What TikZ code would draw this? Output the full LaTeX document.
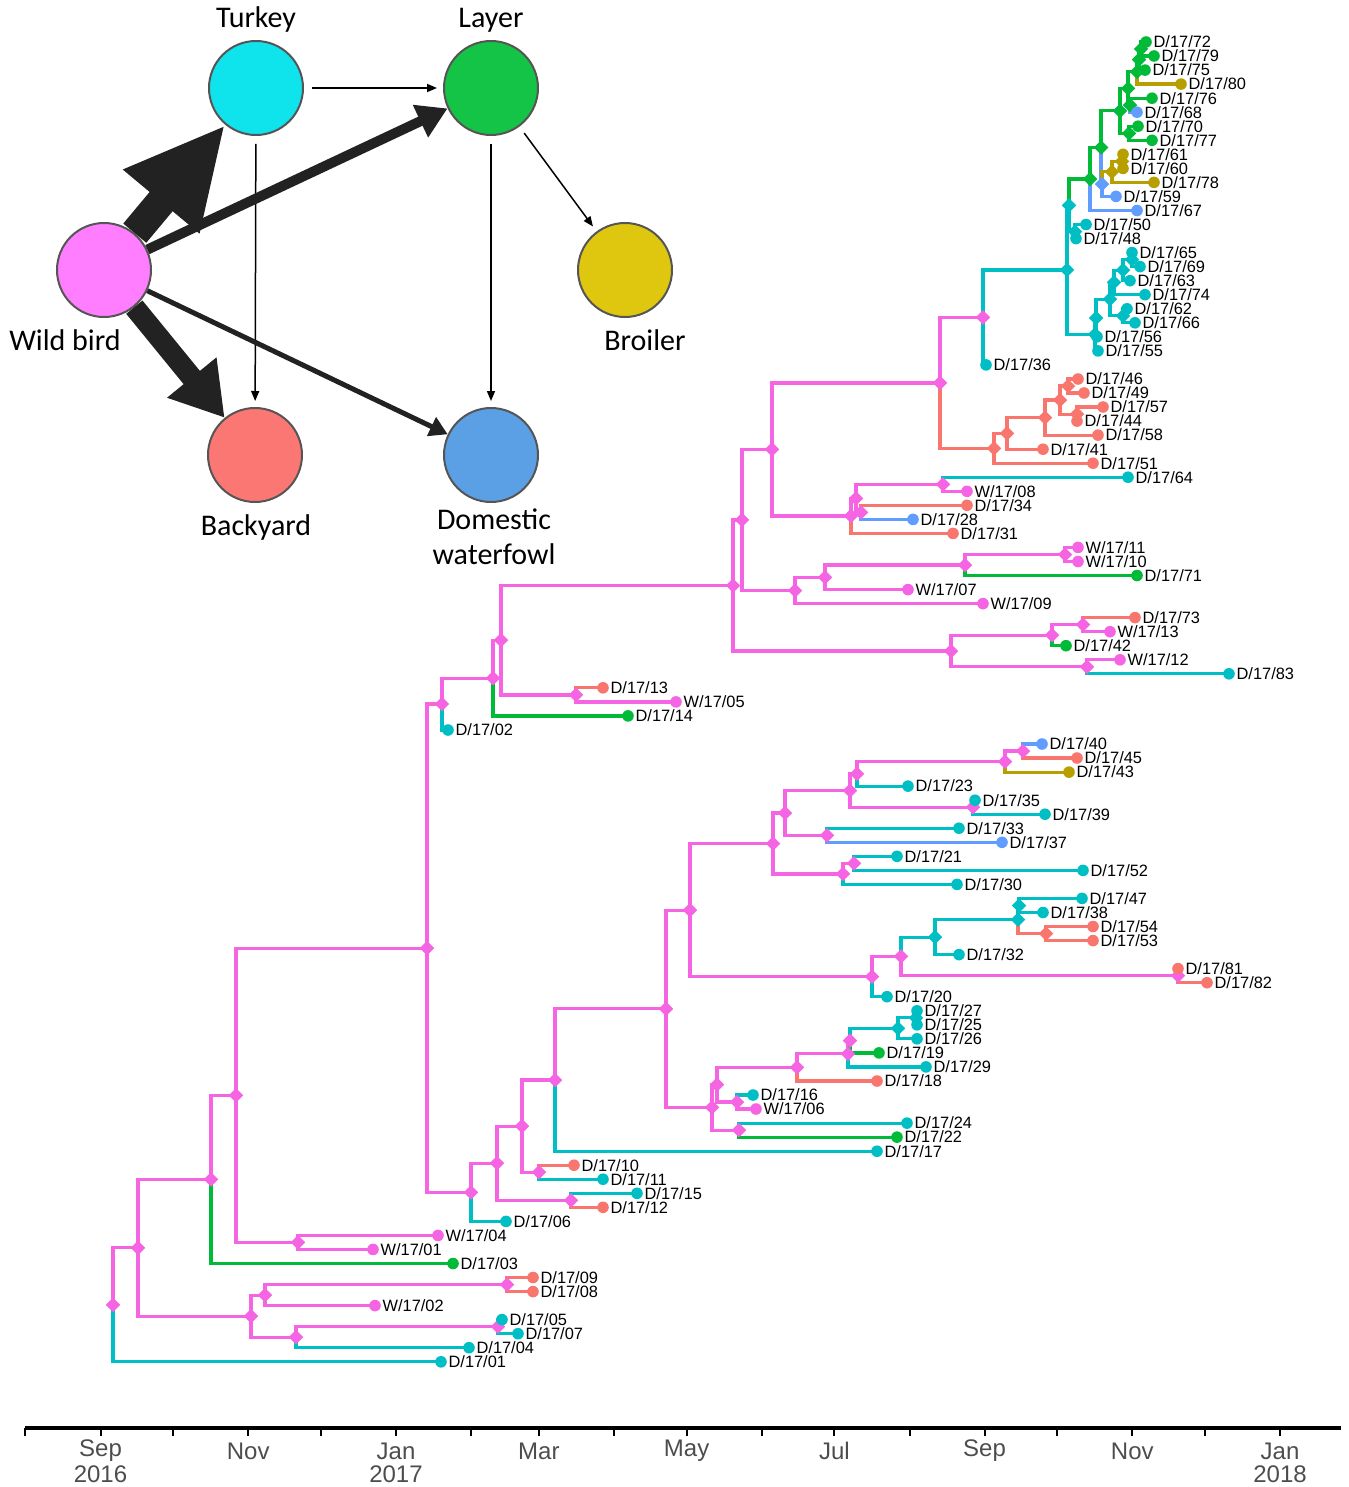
\documentclass[tikz,border=0pt]{standalone}
\usepackage{fontspec}
\setmainfont{Liberation Sans}
\newfontfamily\netfont{Carlito}
\usetikzlibrary{shapes.geometric,arrows.meta}
\pgfdeclarelayer{bg}\pgfsetlayers{bg,main}
\definecolor{cM}{HTML}{F564E3}
\definecolor{cT}{HTML}{00BFC4}
\definecolor{cG}{HTML}{00BA38}
\definecolor{cS}{HTML}{F8766D}
\definecolor{cB}{HTML}{619CFF}
\definecolor{cO}{HTML}{B79F00}
\definecolor{nTu}{HTML}{0FE3EC}
\definecolor{nLa}{HTML}{14C446}
\definecolor{nWb}{HTML}{FF7EFF}
\definecolor{nBr}{HTML}{DEC70E}
\definecolor{nBa}{HTML}{FA7773}
\definecolor{nDw}{HTML}{5B9FE5}
\definecolor{axgray}{HTML}{4D4D4D}
\definecolor{ringgray}{HTML}{555555}
\definecolor{arrk}{HTML}{222222}
\tikzset{
  tipdot/.style={circle,inner sep=0pt,minimum size=5.8pt},
  dia/.style={diamond,inner sep=0pt,minimum size=7.4pt,aspect=1},
  tiplab/.style={anchor=west,inner sep=0.5pt,font=\fontsize{8.2}{9}\selectfont},
  branch/.style={line width=1.6pt,line join=miter},
  netc/.style={circle,minimum size=47pt,inner sep=0pt,draw=ringgray,line width=1pt},
  netlab/.style={font=\netfont\fontsize{15}{17.5}\selectfont,inner sep=0pt},
  thinarr/.style={line width=0.75pt,-{Triangle[length=5pt,width=4pt]}},
  axlab/.style={font=\fontsize{12}{14}\selectfont,text=axgray,inner sep=0pt}
}
\newcommand\tipn[5]{\node[tipdot,fill=#4] (#1) at (#2,#3) {};\node[tiplab] (#1l) at (#1.east) {#5};}
\newcommand\intn[4]{\node[dia,fill=#4] (#1) at (#2,#3) {};}
\newcommand\brn[3]{\draw[branch,#3] (#1.center) |- (#2.center);}
\begin{document}
\begin{tikzpicture}[x=0.5pt,y=-0.5pt]
\useasboundingbox (0,0) rectangle (1348,1487);
% ---------------- network ----------------
\node[netc,fill=nTu] (tu) at (256,88) {};
\node[netc,fill=nLa] (la) at (491,88) {};
\node[netc,fill=nWb] (wb) at (104,270) {};
\node[netc,fill=nBr] (bro) at (625,270) {};
\node[netc,fill=nBa] (ba) at (255,455) {};
\node[netc,fill=nDw] (dw) at (491,455) {};
\node[netlab] (tul) at (256,20) {Turkey};
\node[netlab] (lal) at (491,20) {Layer};
\node[netlab] (wbl) at (65,340) {Wild bird};
\node[netlab] (brl) at (645,340) {Broiler};
\node[netlab] (bal) at (256,527) {Backyard};
\node[netlab,align=center] (dwl) at (494,537) {Domestic\\waterfowl};
\draw[thinarr,shorten <=4pt,shorten >=3pt] (tu) -- (la);
\draw[thinarr,shorten <=4pt,shorten >=3pt] (tu) -- (ba);
\draw[thinarr,shorten <=4pt,shorten >=3pt] (la) -- (dw);
\draw[thinarr,shorten <=4pt,shorten >=3pt] (la) -- (bro);
\draw[arrk,line width=15pt,-{Triangle[length=50pt,width=46pt]}] (wb) -- (tu);
\draw[arrk,line width=10.5pt,-{Triangle[length=26pt,width=30pt]}] (wb) -- (ba);
\draw[arrk,line width=5pt,-{Triangle[length=15pt,width=17pt]}] (wb) -- (la);
\draw[arrk,line width=2.5pt,-{Triangle[length=9pt,width=10pt]}] (wb) -- (dw);
% ---------------- internal nodes ----------------
\intn{i1305}{113}{1304.8}{cM}
\intn{i1247}{138}{1247.8}{cM}
\intn{i1179}{211}{1179.4}{cM}
\intn{i1095}{236}{1095.3}{cM}
\intn{i1242}{298}{1242.4}{cM}
\intn{i1316}{251}{1316.2}{cM}
\intn{i1295}{265}{1295.1}{cM}
\intn{i1284}{507}{1284.6}{cM}
\intn{i1337}{296}{1337.2}{cM}
\intn{i1327}{498}{1326.7}{cM}
\intn{i947}{427}{948.2}{cM}
\intn{i1192}{471}{1192.3}{cM}
\intn{i1163}{497}{1163.2}{cM}
\intn{i1200}{571}{1200.3}{cM}
\intn{i1124}{522}{1126.1}{cM}
\intn{i1172}{539}{1172.2}{cM}
\intn{i1079}{555}{1080.0}{cM}
\intn{i1008}{666}{1008.8}{cM}
\intn{i1107}{712}{1107.4}{cM}
\intn{i1129}{739}{1130.1}{cM}
\intn{i1083}{717}{1084.7}{cM}
\intn{i1101}{737}{1102.0}{cM}
\intn{i1067}{797}{1067.4}{cM}
\intn{i1053}{848}{1053.8}{cM}
\intn{i1040}{850}{1040.6}{cM}
\intn{i1027}{898}{1028.3}{cT}
\intn{i1017}{916}{1017.8}{cT}
\intn{i909}{690}{910.1}{cM}
\intn{i976}{872}{976.6}{cM}
\intn{i956}{901}{956.4}{cM}
\intn{i975}{1178}{975.7}{cM}
\intn{i937}{935}{937.1}{cT}
\intn{i919}{1018}{919.6}{cT}
\intn{i905}{1019}{905.5}{cT}
\intn{i933}{1046}{933.6}{cS}
\intn{i843}{773}{843.5}{cM}
\intn{i874}{843}{873.9}{cM}
\intn{i863}{854}{863.4}{cM}
\intn{i813}{785}{813.0}{cM}
\intn{i835}{827}{835.3}{cM}
\intn{i790}{850}{790.6}{cM}
\intn{i807}{973}{807.2}{cM}
\intn{i773}{857}{773.9}{cM}
\intn{i762}{1005}{761.6}{cM}
\intn{i751}{1023}{751.0}{cM}
\intn{i703}{442}{704.0}{cM}
\intn{i678}{493}{678.1}{cM}
\intn{i639}{501}{640.2}{cM}
\intn{i695}{576}{694.9}{cM}
\intn{i585}{733}{585.5}{cM}
\intn{i650}{951}{651.0}{cM}
\intn{i666}{1087}{666.8}{cM}
\intn{i634}{1052}{635.2}{cM}
\intn{i625}{1083}{624.7}{cM}
\intn{i520}{742}{519.9}{cM}
\intn{i590}{795}{590.5}{cM}
\intn{i577}{825}{577.3}{cM}
\intn{i564}{965}{565.0}{cM}
\intn{i553}{1065}{554.5}{cM}
\intn{i449}{772}{449.4}{cM}
\intn{i515}{851}{515.9}{cM}
\intn{i497}{856}{498.3}{cM}
\intn{i512}{861}{512.4}{cM}
\intn{i483}{943}{484.3}{cM}
\intn{i381}{940}{382.9}{cM}
\intn{i448}{994}{448.3}{cS}
\intn{i433}{1007}{433.4}{cS}
\intn{i417}{1045}{417.6}{cS}
\intn{i399}{1060}{400.0}{cS}
\intn{i385}{1068}{386.0}{cS}
\intn{i412}{1077}{414.1}{cS}
\intn{i317}{983}{317.4}{cM}
\intn{i268}{1067}{269.9}{cT}
\intn{i335}{1095}{334.4}{cT}
\intn{i318}{1096}{318.0}{cT}
\intn{i298}{1110}{299.1}{cT}
\intn{i281}{1114}{282.4}{cT}
\intn{i269}{1123}{270.2}{cT}
\intn{i259}{1132}{259.6}{cT}
\intn{i315}{1123}{315.8}{cT}
\intn{i204}{1069}{205.3}{cT}
\intn{i230}{1075}{231.6}{cT}
\intn{i178}{1090}{179.0}{cG}
\intn{i147}{1101}{147.5}{cG}
\intn{i183}{1102}{184.2}{cB}
\intn{i172}{1112}{171.9}{cO}
\intn{i160}{1122}{161.4}{cO}
\intn{i110}{1120}{110.9}{cG}
\intn{i133}{1129}{133.3}{cG}
\intn{i88}{1128}{88.5}{cG}
\intn{i104}{1130}{105.2}{cG}
\intn{i71}{1137}{71.8}{cG}
\intn{i58}{1139}{59.6}{cG}
\intn{i48}{1141}{49.0}{cG}
% ---------------- tips ----------------
\tipn{t72}{1146}{42.0}{cG}{D/17/72}
\tipn{t79}{1154}{56.0}{cG}{D/17/79}
\tipn{t75}{1145}{70.1}{cG}{D/17/75}
\tipn{t80}{1181}{84.1}{cO}{D/17/80}
\tipn{t76}{1152}{98.2}{cG}{D/17/76}
\tipn{t68}{1137}{112.2}{cB}{D/17/68}
\tipn{t70}{1138}{126.2}{cG}{D/17/70}
\tipn{t77}{1152}{140.3}{cG}{D/17/77}
\tipn{t61}{1123}{154.3}{cO}{D/17/61}
\tipn{t60}{1123}{168.4}{cO}{D/17/60}
\tipn{t78}{1154}{182.4}{cO}{D/17/78}
\tipn{t59}{1116}{196.4}{cB}{D/17/59}
\tipn{t67}{1137}{210.5}{cB}{D/17/67}
\tipn{t50}{1086}{224.5}{cT}{D/17/50}
\tipn{t48}{1076}{238.6}{cT}{D/17/48}
\tipn{t65}{1132}{252.6}{cT}{D/17/65}
\tipn{t69}{1140}{266.6}{cT}{D/17/69}
\tipn{t63}{1130}{280.7}{cT}{D/17/63}
\tipn{t74}{1145}{294.7}{cT}{D/17/74}
\tipn{t62}{1127}{308.8}{cT}{D/17/62}
\tipn{t66}{1135}{322.8}{cT}{D/17/66}
\tipn{t56}{1097}{336.8}{cT}{D/17/56}
\tipn{t55}{1098}{350.9}{cT}{D/17/55}
\tipn{t36}{986}{364.9}{cT}{D/17/36}
\tipn{t46}{1078}{379.0}{cS}{D/17/46}
\tipn{t49}{1084}{393.0}{cS}{D/17/49}
\tipn{t57}{1103}{407.0}{cS}{D/17/57}
\tipn{t44}{1077}{421.1}{cS}{D/17/44}
\tipn{t58}{1098}{435.1}{cS}{D/17/58}
\tipn{t41}{1043}{449.2}{cS}{D/17/41}
\tipn{t51}{1093}{463.2}{cS}{D/17/51}
\tipn{t64}{1128}{477.2}{cT}{D/17/64}
\tipn{w08}{967}{491.3}{cM}{W/17/08}
\tipn{t34}{967}{505.3}{cS}{D/17/34}
\tipn{t28}{913}{519.4}{cB}{D/17/28}
\tipn{t31}{953}{533.4}{cS}{D/17/31}
\tipn{w11}{1078}{547.4}{cM}{W/17/11}
\tipn{w10}{1078}{561.5}{cM}{W/17/10}
\tipn{t71}{1137}{575.5}{cG}{D/17/71}
\tipn{w07}{908}{589.6}{cM}{W/17/07}
\tipn{w09}{983}{603.6}{cM}{W/17/09}
\tipn{t73}{1135}{617.6}{cS}{D/17/73}
\tipn{w13}{1110}{631.7}{cM}{W/17/13}
\tipn{t42}{1066}{645.7}{cG}{D/17/42}
\tipn{w12}{1120}{659.8}{cM}{W/17/12}
\tipn{t83}{1229}{673.8}{cT}{D/17/83}
\tipn{t13}{603}{687.8}{cS}{D/17/13}
\tipn{w05}{676}{701.9}{cM}{W/17/05}
\tipn{t14}{628}{715.9}{cG}{D/17/14}
\tipn{t02}{448}{730.0}{cT}{D/17/02}
\tipn{t40}{1042}{744.0}{cB}{D/17/40}
\tipn{t45}{1077}{758.0}{cS}{D/17/45}
\tipn{t43}{1069}{772.1}{cO}{D/17/43}
\tipn{t23}{908}{786.1}{cT}{D/17/23}
\tipn{t35}{975}{800.2}{cT}{D/17/35}
\tipn{t39}{1045}{814.2}{cT}{D/17/39}
\tipn{t33}{959}{828.2}{cT}{D/17/33}
\tipn{t37}{1002}{842.3}{cB}{D/17/37}
\tipn{t21}{897}{856.3}{cT}{D/17/21}
\tipn{t52}{1083}{870.4}{cT}{D/17/52}
\tipn{t30}{957}{884.4}{cT}{D/17/30}
\tipn{t47}{1082}{898.4}{cT}{D/17/47}
\tipn{t38}{1043}{912.5}{cT}{D/17/38}
\tipn{t54}{1093}{926.5}{cS}{D/17/54}
\tipn{t53}{1093}{940.6}{cS}{D/17/53}
\tipn{t32}{959}{954.6}{cT}{D/17/32}
\tipn{t81}{1178}{968.6}{cS}{D/17/81}
\tipn{t82}{1207}{982.7}{cS}{D/17/82}
\tipn{t20}{887}{996.7}{cT}{D/17/20}
\tipn{t27}{917}{1010.8}{cT}{D/17/27}
\tipn{t25}{917}{1024.8}{cT}{D/17/25}
\tipn{t26}{917}{1038.8}{cT}{D/17/26}
\tipn{t19}{879}{1052.9}{cG}{D/17/19}
\tipn{t29}{926}{1066.9}{cT}{D/17/29}
\tipn{t18}{877}{1081.0}{cS}{D/17/18}
\tipn{t16}{753}{1095.0}{cT}{D/17/16}
\tipn{w06}{756}{1109.0}{cM}{W/17/06}
\tipn{t24}{907}{1123.1}{cT}{D/17/24}
\tipn{t22}{897}{1137.1}{cG}{D/17/22}
\tipn{t17}{877}{1151.2}{cT}{D/17/17}
\tipn{t10}{574}{1165.2}{cS}{D/17/10}
\tipn{t11}{603}{1179.2}{cT}{D/17/11}
\tipn{t15}{637}{1193.3}{cT}{D/17/15}
\tipn{t12}{603}{1207.3}{cS}{D/17/12}
\tipn{t06}{506}{1221.4}{cT}{D/17/06}
\tipn{w04}{438}{1235.4}{cM}{W/17/04}
\tipn{w01}{373}{1249.4}{cM}{W/17/01}
\tipn{t03}{453}{1263.5}{cG}{D/17/03}
\tipn{t09}{533}{1277.5}{cS}{D/17/09}
\tipn{t08}{533}{1291.6}{cS}{D/17/08}
\tipn{w02}{375}{1305.6}{cM}{W/17/02}
\tipn{t05}{502}{1319.6}{cT}{D/17/05}
\tipn{t07}{518}{1333.7}{cT}{D/17/07}
\tipn{t04}{469}{1347.7}{cT}{D/17/04}
\tipn{t01}{441}{1361.8}{cT}{D/17/01}
% ---------------- branches ----------------
\begin{pgfonlayer}{bg}
\brn{i1305}{i1247}{cM}\brn{i1305}{t01}{cT}
\brn{i1247}{i1179}{cM}\brn{i1247}{i1316}{cM}
\brn{i1179}{i1095}{cM}\brn{i1179}{t03}{cG}
\brn{i1095}{i947}{cM}\brn{i1095}{i1242}{cM}
\brn{i1242}{w04}{cM}\brn{i1242}{w01}{cM}
\brn{i1316}{i1295}{cM}\brn{i1316}{i1337}{cM}
\brn{i1295}{i1284}{cM}\brn{i1295}{w02}{cM}
\brn{i1284}{t09}{cS}\brn{i1284}{t08}{cS}
\brn{i1337}{i1327}{cM}\brn{i1337}{t04}{cT}
\brn{i1327}{t05}{cT}\brn{i1327}{t07}{cT}
\brn{i947}{i703}{cM}\brn{i947}{i1192}{cM}
\brn{i1192}{i1163}{cM}\brn{i1192}{t06}{cT}
\brn{i1163}{i1124}{cM}\brn{i1163}{i1200}{cM}
\brn{i1200}{t15}{cT}\brn{i1200}{t12}{cS}
\brn{i1124}{i1079}{cM}\brn{i1124}{i1172}{cM}
\brn{i1172}{t10}{cS}\brn{i1172}{t11}{cT}
\brn{i1079}{i1008}{cM}\brn{i1079}{t17}{cT}
\brn{i1008}{i909}{cM}\brn{i1008}{i1107}{cM}
\brn{i1107}{i1083}{cM}\brn{i1107}{i1129}{cM}
\brn{i1129}{t24}{cT}\brn{i1129}{t22}{cG}
\brn{i1083}{i1067}{cM}\brn{i1083}{i1101}{cM}
\brn{i1101}{t16}{cT}\brn{i1101}{w06}{cM}
\brn{i1067}{i1053}{cM}\brn{i1067}{t18}{cS}
\brn{i1053}{i1040}{cM}\brn{i1053}{t29}{cT}
\brn{i1040}{i1027}{cT}\brn{i1040}{t19}{cG}
\brn{i1027}{i1017}{cT}\brn{i1027}{t26}{cT}
\brn{i1017}{t27}{cT}\brn{i1017}{t25}{cT}
\brn{i909}{i843}{cM}\brn{i909}{i976}{cM}
\brn{i976}{i956}{cM}\brn{i976}{t20}{cT}
\brn{i956}{i937}{cT}\brn{i956}{i975}{cM}
\brn{i975}{t81}{cS}\brn{i975}{t82}{cS}
\brn{i937}{i919}{cT}\brn{i937}{t32}{cT}
\brn{i919}{i905}{cT}\brn{i919}{i933}{cS}
\brn{i905}{t47}{cT}\brn{i905}{t38}{cT}
\brn{i933}{t54}{cS}\brn{i933}{t53}{cS}
\brn{i843}{i813}{cM}\brn{i843}{i874}{cM}
\brn{i874}{i863}{cM}\brn{i874}{t30}{cT}
\brn{i863}{t21}{cT}\brn{i863}{t52}{cT}
\brn{i813}{i790}{cM}\brn{i813}{i835}{cM}
\brn{i835}{t33}{cT}\brn{i835}{t37}{cB}
\brn{i790}{i773}{cM}\brn{i790}{i807}{cM}
\brn{i807}{t35}{cT}\brn{i807}{t39}{cT}
\brn{i773}{i762}{cM}\brn{i773}{t23}{cT}
\brn{i762}{i751}{cM}\brn{i762}{t43}{cO}
\brn{i751}{t40}{cB}\brn{i751}{t45}{cS}
\brn{i703}{i678}{cM}\brn{i703}{t02}{cT}
\brn{i678}{i639}{cM}\brn{i678}{t14}{cG}
\brn{i639}{i585}{cM}\brn{i639}{i695}{cM}
\brn{i695}{t13}{cS}\brn{i695}{w05}{cM}
\brn{i585}{i520}{cM}\brn{i585}{i650}{cM}
\brn{i650}{i634}{cM}\brn{i650}{i666}{cM}
\brn{i666}{w12}{cM}\brn{i666}{t83}{cT}
\brn{i634}{i625}{cM}\brn{i634}{t42}{cG}
\brn{i625}{t73}{cS}\brn{i625}{w13}{cM}
\brn{i520}{i449}{cM}\brn{i520}{i590}{cM}
\brn{i590}{i577}{cM}\brn{i590}{w09}{cM}
\brn{i577}{i564}{cM}\brn{i577}{w07}{cM}
\brn{i564}{i553}{cM}\brn{i564}{t71}{cG}
\brn{i553}{w11}{cM}\brn{i553}{w10}{cM}
\brn{i449}{i381}{cM}\brn{i449}{i515}{cM}
\brn{i515}{i497}{cM}\brn{i515}{t31}{cS}
\brn{i497}{i483}{cM}\brn{i497}{i512}{cM}
\brn{i512}{t34}{cS}\brn{i512}{t28}{cB}
\brn{i483}{t64}{cT}\brn{i483}{w08}{cM}
\brn{i381}{i317}{cM}\brn{i381}{i448}{cS}
\brn{i448}{i433}{cS}\brn{i448}{t51}{cS}
\brn{i433}{i417}{cS}\brn{i433}{t41}{cS}
\brn{i417}{i399}{cS}\brn{i417}{t58}{cS}
\brn{i399}{i385}{cS}\brn{i399}{i412}{cS}
\brn{i385}{t46}{cS}\brn{i385}{t49}{cS}
\brn{i412}{t57}{cS}\brn{i412}{t44}{cS}
\brn{i317}{i268}{cT}\brn{i317}{t36}{cT}
\brn{i268}{i204}{cT}\brn{i268}{i335}{cT}
\brn{i335}{i318}{cT}\brn{i335}{t55}{cT}
\brn{i318}{i298}{cT}\brn{i318}{t56}{cT}
\brn{i298}{i281}{cT}\brn{i298}{i315}{cT}
\brn{i281}{i269}{cT}\brn{i281}{t74}{cT}
\brn{i269}{i259}{cT}\brn{i269}{t63}{cT}
\brn{i259}{t65}{cT}\brn{i259}{t69}{cT}
\brn{i315}{t62}{cT}\brn{i315}{t66}{cT}
\brn{i204}{i178}{cG}\brn{i204}{i230}{cT}
\brn{i230}{t50}{cT}\brn{i230}{t48}{cT}
\brn{i178}{i147}{cG}\brn{i178}{t67}{cB}
\brn{i147}{i110}{cG}\brn{i147}{i183}{cB}
\brn{i183}{i172}{cO}\brn{i183}{t59}{cB}
\brn{i172}{i160}{cO}\brn{i172}{t78}{cO}
\brn{i160}{t61}{cO}\brn{i160}{t60}{cO}
\brn{i110}{i88}{cG}\brn{i110}{i133}{cG}
\brn{i133}{t70}{cG}\brn{i133}{t77}{cG}
\brn{i88}{i71}{cG}\brn{i88}{i104}{cG}
\brn{i104}{t76}{cG}\brn{i104}{t68}{cB}
\brn{i71}{i58}{cG}\brn{i71}{t80}{cO}
\brn{i58}{i48}{cG}\brn{i58}{t75}{cG}
\brn{i48}{t72}{cG}\brn{i48}{t79}{cG}
\end{pgfonlayer}
% ---------------- time axis ----------------
\draw[line width=1.6pt] (25.4,1428) -- (1341,1428);
\foreach \x in {25.4,100.5,173.2,248.2,320.9,396,471,538.9,614,686.6,761.7,834.4,909.5,984.5,1057.2,1132.3,1205,1280}
  \draw[line width=1pt] (\x,1428) -- (\x,1436);
\foreach \x/\m in {100.5/Sep,248.2/Nov,396/Jan,538.9/Mar,686.6/May,834.4/Jul,984.5/Sep,1132.3/Nov,1280/Jan}
  \node[axlab] at (\x,1451) {\m};
\foreach \x/\yr in {100.5/2016,396/2017,1280/2018}
  \node[axlab] at (\x,1474) {\yr};
\end{tikzpicture}
\end{document}
